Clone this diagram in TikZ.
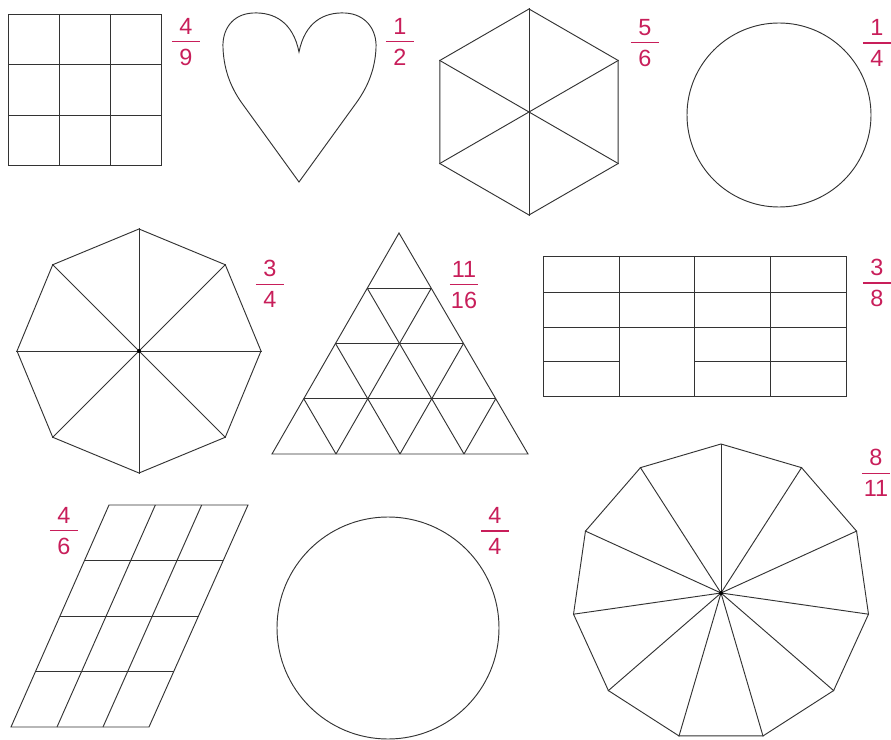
\documentclass[tikz,border=0pt]{standalone}
\usepackage{fontspec}
\setmainfont{Liberation Sans}
\usetikzlibrary{calc,shapes.geometric}

\definecolor{fraccol}{RGB}{200,30,90}
\newcommand{\fr}[2]{\vbox{\hbox to 24pt{\hss#1\hss}\kern5.5pt\hrule height 1pt\kern5.5pt\hbox to 24pt{\hss#2\hss}}}

\begin{document}
\begin{tikzpicture}[
    x = 0.03cm, y = -0.03cm, %
    line width = 0.8pt, %
    draw = black!80
    ]

    \tikzset{
    frac/.style = {text = fraccol, inner sep = 0pt, font = \fontsize{20}{24}\selectfont},
    poly/.style = {regular polygon, draw, inner sep = 0pt},
    ring/.style = {circle, draw, inner sep = 0pt}
    }

    \useasboundingbox (0,0) rectangle (891,740);

    % square 3x3
    \draw (8,14) rectangle (161,165);
    \foreach \x in {59,110} \draw (\x,14) -- (\x,165);
    \foreach \y in {64,115} \draw (8,\y) -- (161,\y);

    % heart
    \draw (299,52) .. controls (293,22) and (274,12) .. (253,13)
        .. controls (232,14) and (222,30) .. (223,48)
        .. controls (224,72) and (232,90) .. (244,106)
        -- (299,182) -- (354,106)
        .. controls (366,90) and (375,72) .. (376,48)
        .. controls (377,30) and (366,14) .. (345,13)
        .. controls (324,12) and (305,22) .. cycle;

    % hexagon
    \node[poly, regular polygon sides=6, shape border rotate=30, minimum size=6.18cm] (hex) at (529,112) {};
    \foreach \k [evaluate=\k as \m using int(\k+3)] in {1,2,3}
        \draw (hex.corner \k) -- (hex.corner \m);

    \node[ring, minimum size=5.52cm] (disc1) at (779,115) {};

    % octagon
    \node[poly, regular polygon sides=8, shape border rotate=22.5, minimum size=7.32cm] (oct) at (139,351) {};
    \foreach \k in {1,...,8} \draw (oct.center) -- (oct.corner \k);
    \fill[black] (oct.center) circle (2);

    % triangle
    \coordinate (ta) at (399,233);
    \coordinate (tb) at (272,454);
    \coordinate (tc) at (528,454);
    \draw (ta) -- (tb) -- (tc) -- cycle;
    \foreach \k in {1,2,3} {
        \draw ($(ta)!\k/4!(tb)$) -- ($(ta)!\k/4!(tc)$);
        \draw ($(tb)!\k/4!(ta)$) -- ($(tb)!\k/4!(tc)$);
        \draw ($(tc)!\k/4!(ta)$) -- ($(tc)!\k/4!(tb)$);
    }

    % rectangle
    \draw (543,256) rectangle (846,396);
    \foreach \x in {619,694,770} \draw (\x,256) -- (\x,396);
    \foreach \y in {292,327} \draw (543,\y) -- (846,\y);
    \draw (543,361) -- (619,361);
    \draw (694,361) -- (846,361);

    % parallelogram
    \coordinate (pa) at (109,505);
    \coordinate (pb) at (248,505);
    \coordinate (pc) at (149,727);
    \coordinate (pd) at (11,727);
    \draw (pa) -- (pb) -- (pc) -- (pd) -- cycle;
    \foreach \k in {1,2,3} \draw ($(pa)!\k/4!(pd)$) -- ($(pb)!\k/4!(pc)$);
    \foreach \k in {1,2} \draw ($(pa)!\k/3!(pb)$) -- ($(pd)!\k/3!(pc)$);

    \node[ring, minimum size=6.66cm] (disc2) at (388,628) {};

    % 11-gon
    \node[poly, regular polygon sides=11, minimum size=8.94cm] (elf) at (721,593) {};
    \foreach \k in {1,...,11} \draw (elf.center) -- (elf.corner \k);
    \fill[black] (elf.center) circle (2);

    % fractions
    \node[frac] (fr49)   at (186,42)  {\fr{4}{9}};
    \node[frac] (fr12)   at (400,42)  {\fr{1}{2}};
    \node[frac] (fr56)   at (645,43)  {\fr{5}{6}};
    \node[frac] (fr14)   at (877,43)  {\fr{1}{4}};
    \node[frac] (fr34)   at (270,284) {\fr{3}{4}};
    \node[frac] (fr1116) at (464,285) {\fr{11}{16}};
    \node[frac] (fr38)   at (877,283) {\fr{3}{8}};
    \node[frac] (fr46)   at (64,531)  {\fr{4}{6}};
    \node[frac] (fr44)   at (495,531) {\fr{4}{4}};
    \node[frac] (fr811)  at (876,473) {\fr{8}{11}};

\end{tikzpicture}
\end{document}
